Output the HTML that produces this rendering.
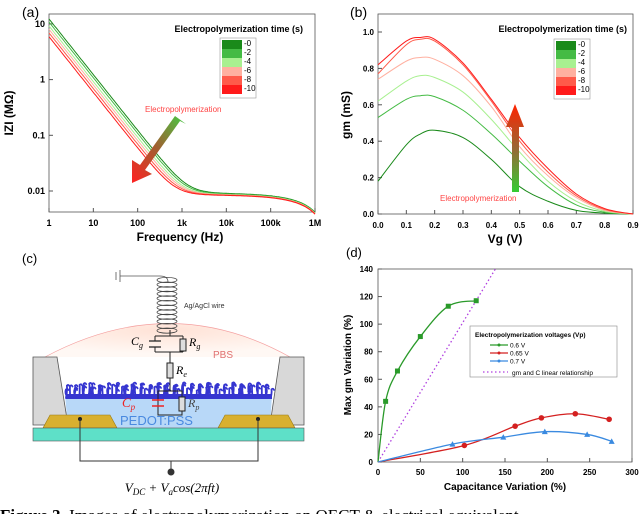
<!DOCTYPE html>
<html><head><meta charset="utf-8"><style>
html,body{margin:0;padding:0;background:#fff;}
svg{display:block;font-family:"Liberation Sans",Arial,sans-serif;}
</style></head><body>
<svg id="fig" width="640" height="514" viewBox="0 0 640 514" xmlns="http://www.w3.org/2000/svg">
<defs>
<linearGradient id="garrA" x1="1" y1="0" x2="0" y2="1"><stop offset="0" stop-color="#4c4"/><stop offset="0.5" stop-color="#a06030"/><stop offset="1" stop-color="#f22"/></linearGradient>
<linearGradient id="garrB" x1="0" y1="1" x2="0" y2="0"><stop offset="0" stop-color="#3c3"/><stop offset="0.5" stop-color="#996633"/><stop offset="1" stop-color="#f20"/></linearGradient>
<radialGradient id="dome" cx="0.5" cy="0.2" r="0.7"><stop offset="0" stop-color="#ffe2d6"/><stop offset="1" stop-color="#fff8f4"/></radialGradient>
</defs>
<g id="pa"></g>
<g id="pb"></g>
<g id="pc">
  <text x="22" y="263" font-size="13">(c)</text>
  <path d="M45,357 Q170,290 290,357" fill="url(#dome)" stroke="#f4a0a0" stroke-width="0.7"/>
  <polygon points="33,357 57,357 68,425 33,425" fill="#d8d8d8" stroke="#555" stroke-width="0.8"/>
  <polygon points="280,357 304,357 304,425 270,425" fill="#d8d8d8" stroke="#555" stroke-width="0.8"/>
  <path d="M65,395 L272,395 L270,428 L68,428 Z" fill="#b8d8f8"/>
  <g id="fibers" stroke="#3535d0" stroke-width="1.8" fill="none" stroke-linecap="round"></g>
  <polygon points="50,415 110,415 117,428 43,428" fill="#d8b030" stroke="#9a7a10" stroke-width="0.6"/>
  <polygon points="225,415 288,415 295,428 218,428" fill="#d8b030" stroke="#9a7a10" stroke-width="0.6"/>
  <rect x="33" y="428" width="271" height="13" fill="#5ee0c8" stroke="#555" stroke-width="0.6"/>
  <text x="120" y="425" font-size="13" fill="#4a8ae0">PEDOT:PSS</text>
  <text x="213" y="358" font-size="10" fill="#e07070">PBS</text>
  <circle cx="80" cy="419" r="2" fill="#222"/><circle cx="258" cy="419" r="2" fill="#222"/>
  <path d="M80,419 V461 H258 V419 M171,461 V471" fill="none" stroke="#333" stroke-width="1"/>
  <circle cx="171" cy="472" r="3.5" fill="#333"/>
  <text x="172" y="492" font-size="13" font-family="Liberation Serif,serif" font-style="italic" text-anchor="middle">V<tspan font-size="9" dy="3">DC</tspan><tspan dy="-3"> + V</tspan><tspan font-size="9" dy="3">a</tspan><tspan dy="-3">cos(2πft)</tspan></text>
  <path d="M116,272 V280 M120,270 V282 M120,276 H160 Q168,276 168,282" fill="none" stroke="#555" stroke-width="0.8"/>
  <g id="coil" fill="none" stroke="#444" stroke-width="0.8"></g>
  <text x="184" y="308" font-size="7" fill="#333">Ag/AgCl wire</text>
  <g fill="none" stroke="#222" stroke-width="1">
    <path d="M170,330 V336 M155,336 H183 M155,336 V341 M155,347 V352 M183,336 V339 M183,350 V352 M155,352 H183 M170,352 V363 M170,378 V391 M158,391 H182 V415 H158 Z M158,391 V400 M158,406 V415"/>
    <path d="M149,341 H161 M149,347 H161" stroke-width="1.3"/>
    <rect x="180" y="339" width="6" height="12" fill="#ddd"/>
    <rect x="167" y="363" width="6" height="15" fill="#ddd"/>
    <rect x="179" y="397" width="6" height="14" fill="#ddd"/>
    <path d="M152,400 H164 M152,406 H164" stroke="#e22" stroke-width="1.6"/>
  </g>
  <text x="131" y="345" font-size="12" font-family="Liberation Serif,serif" font-style="italic">C<tspan font-size="8" dy="3">g</tspan></text>
  <text x="189" y="346" font-size="12" font-family="Liberation Serif,serif" font-style="italic">R<tspan font-size="8" dy="3">g</tspan></text>
  <text x="176" y="374" font-size="12" font-family="Liberation Serif,serif" font-style="italic">R<tspan font-size="8" dy="3">e</tspan></text>
  <text x="122" y="407" font-size="13" fill="#e22" font-family="Liberation Serif,serif" font-style="italic">C<tspan font-size="9" dy="3">p</tspan></text>
  <text x="188" y="407" font-size="12" fill="#444" font-family="Liberation Serif,serif" font-style="italic">R<tspan font-size="8" dy="3">p</tspan></text>
</g>
<g id="pd"></g>
<text x="0" y="521" font-size="17" font-family="Liberation Serif,serif"><tspan font-weight="bold">Figure 3.</tspan> Images of electropolymerization on OECT &amp; electrical equivalent</text>
</svg>
<script>
const NS="http://www.w3.org/2000/svg";
function mk(p,t,a,txt){const e=document.createElementNS(NS,t);for(const k in a)e.setAttribute(k,a[k]);if(txt!==undefined)e.textContent=txt;p.appendChild(e);return e;}
// coil
const coil=document.getElementById('coil');
for(let i=0;i<12;i++){const y=280+i*4.6;mk(coil,'ellipse',{cx:167,cy:y,rx:10,ry:2.6});}
// fibers (decorative)
const fib=document.getElementById('fibers');
let fd='';
for(let x=66;x<272;x+=2.2){const h=6+6*Math.abs(Math.sin(x*0.37))+3*Math.abs(Math.sin(x*1.3));const c=(Math.sin(x*2.1))*4;
 fd+='M'+x.toFixed(1)+',398 q'+c.toFixed(1)+','+(-h/2).toFixed(1)+' '+(c*0.6).toFixed(1)+','+(-h).toFixed(1)+' q1.5,-1.5 2.5,0.5 ';}
fib.setAttribute('d',fd);
mk(fib,'path',{d:fd});
mk(fib,'rect',{x:66,y:394,width:206,height:5,fill:'#3535d0',stroke:'none'});

// ---------- Panel A data ----------
const aTimes=["0","2","4","6","8","10"];
const aColors=["#1a8a1a","#44bb44","#a8f090","#ffb0a0","#ff5a4a","#ff1a1a"];
const aLowZ=[12.3,10.8,9.2,8.0,6.9,5.9];       // |Z| at 1 Hz (MΩ)
const aPlateau=[0.0092,0.0090,0.0088,0.0087,0.0086,0.0085]; // MΩ plateau
const aXTicks=[1,10,100,1000,10000,100000,1000000];
const aXTickLabels=["1","10","100","1k","10k","100k","1M"];
const aYTicks=[0.01,0.1,1,10];
const aYTickLabels=["0.01","0.1","1","10"];

const pa=document.getElementById('pa');
const A={x0:49,x1:315,y0:14,y1:212};
const ax=f=>A.x0+(Math.log10(f))*(A.x1-A.x0)/6;
const ay=v=>191-(Math.log10(v)+2)*55.7;
mk(pa,'text',{x:22,y:17,'font-size':14,},'(a)');
mk(pa,'rect',{x:A.x0,y:A.y0,width:A.x1-A.x0,height:A.y1-A.y0,fill:'none',stroke:'#555','stroke-width':0.8,});
aXTicks.forEach((t,i)=>{const x=ax(t);
 const l=mk(pa,'line',{x1:x,x2:x,y1:A.y1,y2:A.y1-4,stroke:'#555'});
 
 
 mk(pa,'text',{x:x,y:226,'font-size':9,'font-weight':'bold','text-anchor':'middle',},aXTickLabels[i]);});
aYTicks.forEach((t,i)=>{const y=ay(t);
 mk(pa,'line',{x1:A.x0,x2:A.x0+4,y1:y,y2:y,stroke:'#555',});
 mk(pa,'text',{x:A.x0-4,y:y+3,'font-size':9,'font-weight':'bold','text-anchor':'end',},aYTickLabels[i]);});
mk(pa,'text',{x:180,y:241,'font-size':12,'font-weight':'bold','text-anchor':'middle',},'Frequency (Hz)');
mk(pa,'text',{x:13,y:113,'font-size':12,'font-weight':'bold','text-anchor':'middle',transform:'rotate(-90 13 113)',},'IZI (MΩ)');
aLowZ.forEach((z0,k)=>{let d='';
 for(let i=0;i<=240;i++){const lf=i*6/240,f=Math.pow(10,lf);
  const rs=aPlateau[k]*(1-0.55*Math.pow(f/1e6,0.7));
  const v=Math.sqrt(rs*rs+Math.pow(z0/f,2));
  d+=(i?'L':'M')+ax(f).toFixed(1)+','+ay(v).toFixed(1);}
 const p=mk(pa,'path',{d:d,fill:'none',stroke:aColors[k],'stroke-width':1});
 
 });
function legend(g,tx,ty,bx,by,suffix){
 mk(g,'text',{x:tx,y:ty,'font-size':9,'font-weight':'bold','text-anchor':'end',},'Electropolymerization time (s)');
 mk(g,'rect',{x:bx-2,y:by-2,width:36,height:60,fill:'#fff',stroke:'#999','stroke-width':0.6,});
 aColors.forEach((c,i)=>{mk(g,'rect',{x:bx,y:by+i*9,width:20,height:9,fill:c,});
  mk(g,'text',{x:bx+22,y:by+i*9+6,'font-size':8,},'-'+aTimes[i]);});
}
legend(pa,303,32,222,40,'a');
mk(pa,'polygon',{points:'186,124 175,116 140,165 132,160 132,183 152,174 145,170 180,121',fill:'url(#garrA)',});
mk(pa,'text',{x:145,y:112,'font-size':8,fill:'#f44',},'Electropolymerization');

// ---------- Panel B data ----------
const bVg=[0,0.1,0.15,0.2,0.3,0.4,0.5,0.6,0.7,0.8,0.9];
const bGm0=[0.18,0.38,0.44,0.46,0.42,0.30,0.15,0.07,0.02,0.005,0];
const bGm2=[0.53,0.63,0.65,0.645,0.57,0.44,0.29,0.15,0.05,0.01,0];
const bGm4=[0.62,0.73,0.76,0.75,0.67,0.52,0.34,0.18,0.07,0.015,0];
const bGm6=[0.74,0.84,0.86,0.85,0.76,0.59,0.37,0.21,0.09,0.02,0];
const bGm8=[0.77,0.93,0.96,0.95,0.82,0.62,0.40,0.23,0.10,0.025,0];
const bGm10=[0.82,0.95,0.97,0.96,0.83,0.63,0.42,0.25,0.11,0.03,0];
const bXTicks=[0,0.1,0.2,0.3,0.4,0.5,0.6,0.7,0.8,0.9];
const bYTicks=[0,0.2,0.4,0.6,0.8,1.0];
const pb=document.getElementById('pb');
const B={x0:378,x1:633,y0:14,y1:214};
const bx=v=>B.x0+v*(B.x1-B.x0)/0.9;
const by=v=>B.y1-v*182;
mk(pb,'text',{x:350,y:17,'font-size':14,},'(b)');
mk(pb,'rect',{x:B.x0,y:B.y0,width:B.x1-B.x0,height:B.y1-B.y0,fill:'none',stroke:'#555','stroke-width':0.8,});
bXTicks.forEach(t=>{const x=bx(t);mk(pb,'line',{x1:x,x2:x,y1:B.y1,y2:B.y1-4,stroke:'#555',});
 mk(pb,'text',{x:x,y:228,'font-size':8,'font-weight':'bold','text-anchor':'middle',},t.toFixed(1));});
bYTicks.forEach(t=>{const y=by(t);mk(pb,'line',{x1:B.x0,x2:B.x0+4,y1:y,y2:y,stroke:'#555',});
 mk(pb,'text',{x:B.x0-4,y:y+3,'font-size':8,'font-weight':'bold','text-anchor':'end',},t.toFixed(1));});
mk(pb,'text',{x:505,y:243,'font-size':12,'font-weight':'bold','text-anchor':'middle',},'Vg (V)');
mk(pb,'text',{x:350,y:115,'font-size':12,'font-weight':'bold','text-anchor':'middle',transform:'rotate(-90 350 115)',},'gm (mS)');
function smooth(pts){let d='M'+pts[0][0]+','+pts[0][1];
 for(let i=0;i<pts.length-1;i++){const p0=pts[i-1]||pts[i],p1=pts[i],p2=pts[i+1],p3=pts[i+2]||p2;
  d+=' C'+(p1[0]+(p2[0]-p0[0])/6)+','+(p1[1]+(p2[1]-p0[1])/6)+' '+(p2[0]-(p3[0]-p1[0])/6)+','+(p2[1]-(p3[1]-p1[1])/6)+' '+p2[0]+','+p2[1];}
 return d;}
[bGm0,bGm2,bGm4,bGm6,bGm8,bGm10].forEach((s,k)=>{
 const p=mk(pb,'path',{d:smooth(bVg.map((v,i)=>[bx(v),by(s[i])])),fill:'none',stroke:aColors[k],'stroke-width':1});
 
 });
legend(pb,627,32,556,41,'b');
mk(pb,'polygon',{points:'512,192 519,192 519,127 524,127 515,104 506,127 512,127',fill:'url(#garrB)',});
mk(pb,'text',{x:440,y:201,'font-size':8,fill:'#f44',},'Electropolymerization');

// ---------- Panel D data ----------
const dGreenX=[0,9,23,50,83,116];
const dGreenY=[0,44,66,91,113,117];
const dRedX=[0,102,162,193,233,273];
const dRedY=[0,12,26,32,35,31];
const dBlueX=[0,88,148,197,247,276];
const dBlueY=[0,13,18,22,20,15];
const dLineSlope=[1.01];
const dXTicks=[0,50,100,150,200,250,300];
const dYTicks=[0,20,40,60,80,100,120,140];
const pd=document.getElementById('pd');
const D={x0:378,x1:632,y0:269,y1:462};
const dx=v=>D.x0+v*(D.x1-D.x0)/300;
const dy=v=>D.y1-v*(D.y1-D.y0)/140;
mk(pd,'text',{x:346,y:257,'font-size':13,},'(d)');
mk(pd,'rect',{x:D.x0,y:D.y0,width:D.x1-D.x0,height:D.y1-D.y0,fill:'none',stroke:'#555','stroke-width':0.8,});
dXTicks.forEach(t=>{const x=dx(t);mk(pd,'line',{x1:x,x2:x,y1:D.y1,y2:D.y1-4,stroke:'#555',});
 mk(pd,'text',{x:x,y:475,'font-size':8,'font-weight':'bold','text-anchor':'middle',},t);});
dYTicks.forEach(t=>{const y=dy(t);mk(pd,'line',{x1:D.x0,x2:D.x0+4,y1:y,y2:y,stroke:'#555',});
 mk(pd,'text',{x:D.x0-5,y:y+3,'font-size':8,'font-weight':'bold','text-anchor':'end',},t);});
mk(pd,'text',{x:505,y:490,'font-size':10,'font-weight':'bold','text-anchor':'middle',},'Capacitance Variation (%)');
mk(pd,'text',{x:351,y:365,'font-size':10,'font-weight':'bold','text-anchor':'middle',transform:'rotate(-90 351 365)',},'Max gm Variation (%)');
const xEnd=140/dLineSlope[0];
mk(pd,'line',{x1:dx(0),y1:dy(0),x2:dx(xEnd),y2:dy(xEnd*dLineSlope[0]),stroke:'#b040e0','stroke-width':1.3,'stroke-dasharray':'1.5,2.5',});
function series(xs,ys,color,marker,name){
 const p=mk(pd,'path',{d:smooth(xs.map((v,i)=>[dx(v),dy(ys[i])])),fill:'none',stroke:color,'stroke-width':1.3});
 
 
 xs.forEach((v,i)=>{if(i===0)return;const x=dx(v),y=dy(ys[i]);let m;
  if(marker==='sq')m=mk(pd,'rect',{x:x-2.5,y:y-2.5,width:5,height:5,fill:color});
  else if(marker==='ci')m=mk(pd,'circle',{cx:x,cy:y,r:2.8,fill:color});
  else m=mk(pd,'polygon',{points:(x-3)+','+(y+2.5)+' '+(x+3)+','+(y+2.5)+' '+x+','+(y-3),fill:color});
  
  });}
series(dGreenX,dGreenY,'#2a9a2a','sq','series-0-6v');
series(dRedX,dRedY,'#d42020','ci','series-0-65v');
series(dBlueX,dBlueY,'#3a8ae0','tr','series-0-7v');
const lg=mk(pd,'g',{});
mk(lg,'rect',{x:470,y:326,width:147,height:51,fill:'#fff',stroke:'#888','stroke-width':0.6});
mk(lg,'text',{x:475,y:337,'font-size':6.5,'font-weight':'bold'},'Electropolymerization voltages (Vp)');
[['#2a9a2a','0.6 V',345],['#d42020','0.65 V',353],['#3a8ae0','0.7 V',361]].forEach(e=>{
 mk(lg,'line',{x1:490,x2:508,y1:e[2],y2:e[2],stroke:e[0],'stroke-width':1.2});
 mk(lg,'circle',{cx:499,cy:e[2],r:1.5,fill:e[0]});
 mk(lg,'text',{x:510,y:e[2]+2.5,'font-size':6.5},e[1]);});
mk(lg,'line',{x1:483,x2:508,y1:372,y2:372,stroke:'#b040e0','stroke-width':1.3,'stroke-dasharray':'1.5,2.5'});
mk(lg,'text',{x:512,y:375,'font-size':6.5},'gm and C linear relationship');
</script>
</body></html>
